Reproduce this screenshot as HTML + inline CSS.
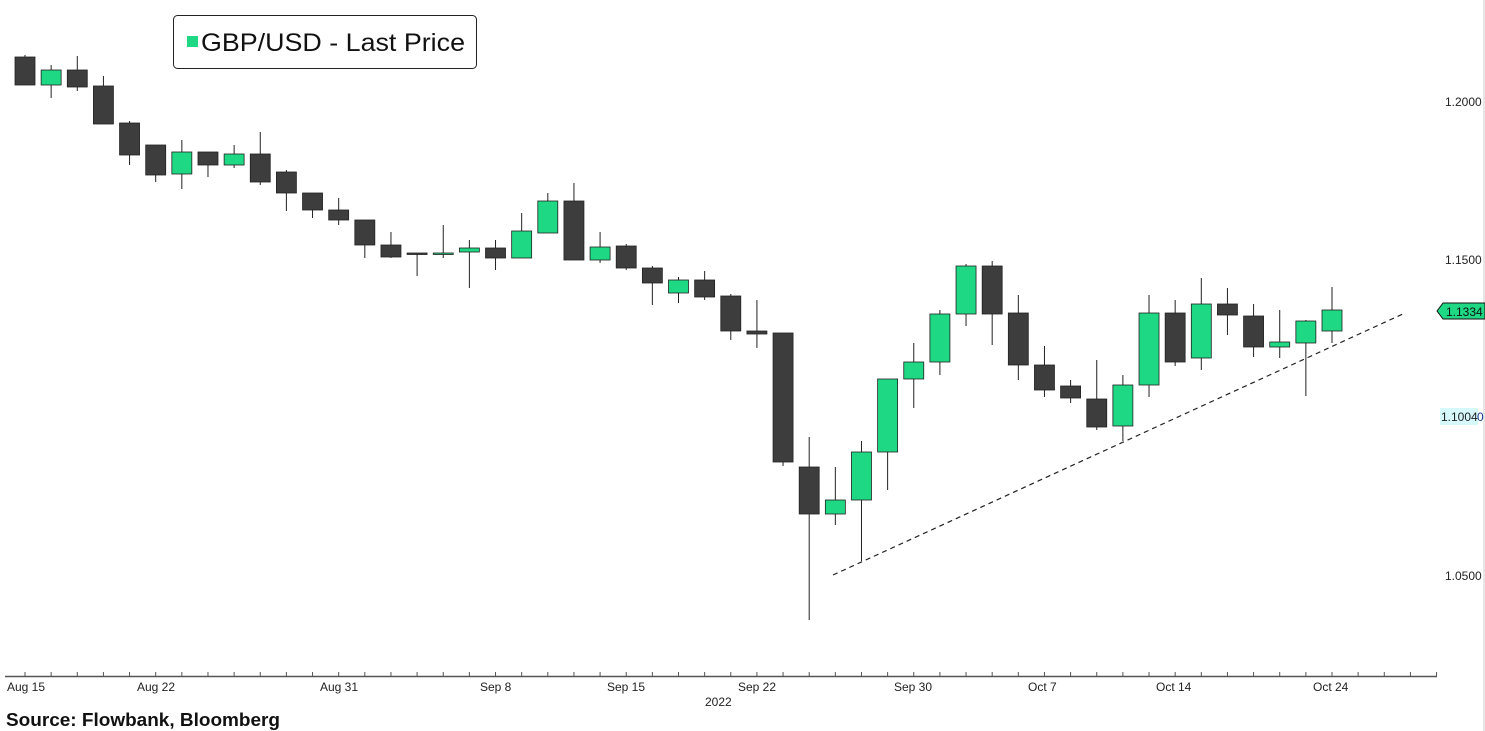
<!DOCTYPE html>
<html><head><meta charset="utf-8"><style>
body{margin:0;background:#fff;width:1485px;height:731px;overflow:hidden;font-family:"Liberation Sans",sans-serif}
svg{position:absolute;left:0;top:0}
</style></head><body>
<svg id="s" width="1485" height="731" xmlns="http://www.w3.org/2000/svg" font-family="Liberation Sans, sans-serif">
<line x1="1484" y1="0" x2="1484" y2="731" stroke="#ccc"/>
<line x1="5" y1="676.5" x2="1437" y2="676.5" stroke="#555" stroke-width="1.5"/>
<g id="ticks" stroke="#555"></g>
<g id="c"></g>
<line x1="833" y1="575" x2="1405" y2="313" stroke="#222" stroke-dasharray="5,4" stroke-width="1.2"/>
<g font-size="12" fill="#222">
<text x="1445" y="106">1.2000</text>
<text x="1445" y="264">1.1500</text>
<text x="1445" y="580">1.0500</text>
</g>
<rect x="1440" y="408" width="38" height="17" fill="#d6f8fb"/>
<text x="1441" y="421" font-size="12" fill="#222">1.1004</text>
<text x="1477" y="421" font-size="12" fill="#1a3b9a">0</text>
<path d="M1437 311 L1443 303 L1485 303 L1485 319 L1443 319 Z" fill="#1fd884" stroke="#111"/>
<text x="1446" y="316" font-size="12" fill="#111">1.1334</text>
<g font-size="12" fill="#222">
<text x="7" y="691">Aug 15</text><text x="137" y="691">Aug 22</text><text x="320" y="691">Aug 31</text>
<text x="480" y="691">Sep 8</text><text x="607" y="691">Sep 15</text><text x="738" y="691">Sep 22</text>
<text x="894" y="691">Sep 30</text><text x="1028" y="691">Oct 7</text><text x="1156" y="691">Oct 14</text>
<text x="1313" y="691">Oct 24</text><text x="705" y="706">2022</text>
</g>
<text x="6" y="726" font-size="18" font-weight="bold" fill="#111" textLength="274" lengthAdjust="spacingAndGlyphs">Source: Flowbank, Bloomberg</text>
<rect x="173.5" y="15.5" width="303" height="53" rx="4" fill="#fff" stroke="#222"/>
<rect x="187" y="36" width="11" height="11" fill="#1fd884"/>
<text x="201" y="51" font-size="25" fill="#111" textLength="264" lengthAdjust="spacingAndGlyphs">GBP/USD - Last Price</text>
</svg>
<script>
var d=[[0,57,85,55,85],[1,85,70,65,98],[0,70,87,56,91],[0,86,124,76,124],[0,123,155,121,165],[0,145,175,145,182],[1,174,152,140,189],[0,152,165,152,177],[1,165,154,145,168],[0,154,182,132,185],[0,172,193,170,211],[0,193,210,193,218],[0,210,220,198,225],[0,220,245,220,258],[0,245,257,232,258],[0,253,253,253,276],[1,253,253,225,258],[1,252,248,240,288],[0,248,258,240,270],[1,258,231,213,258],[1,233,201,193,233],[0,201,260,183,260],[1,260,247,232,263],[0,246,268,244,270],[0,268,283,266,305],[1,293,280,277,303],[0,280,297,271,300],[0,296,331,294,340],[0,331,334,300,348],[0,333,462,333,466],[0,467,514,437,620],[1,514,500,467,525],[1,500,452,441,561],[1,452,379,379,490],[1,379,362,343,408],[1,362,314,310,375],[1,314,266,264,326],[0,266,314,261,345],[0,313,365,295,380],[0,365,390,346,397],[0,386,398,380,403],[0,399,427,360,430],[1,426,385,375,441],[1,385,313,295,397],[0,313,362,300,366],[1,358,304,278,370],[0,304,315,288,335],[0,316,347,304,357],[1,347,342,310,358],[1,343,321,320,396],[1,331,310,287,343]];
var h='',t='';
d.forEach(function(c,i){var x=25+26.14*i;var top=Math.min(c[1],c[2]),bh=Math.max(Math.abs(c[2]-c[1]),1.5);
h+='<line x1="'+x+'" y1="'+c[3]+'" x2="'+x+'" y2="'+c[4]+'" stroke="#222"/>';
h+='<rect x="'+(x-10)+'" y="'+top+'" width="20" height="'+bh+'" fill="'+(c[0]?'#1fd884':'#3d3d3d')+'" stroke="#222" stroke-width="0.8"/>';});
for(var i=0;i<56;i++){var x=25+26.14*i;if(x<1437)t+='<line x1="'+x+'" y1="672" x2="'+x+'" y2="676"/>';}
document.getElementById('c').innerHTML=h;document.getElementById('ticks').innerHTML=t;
</script>
</body></html>
